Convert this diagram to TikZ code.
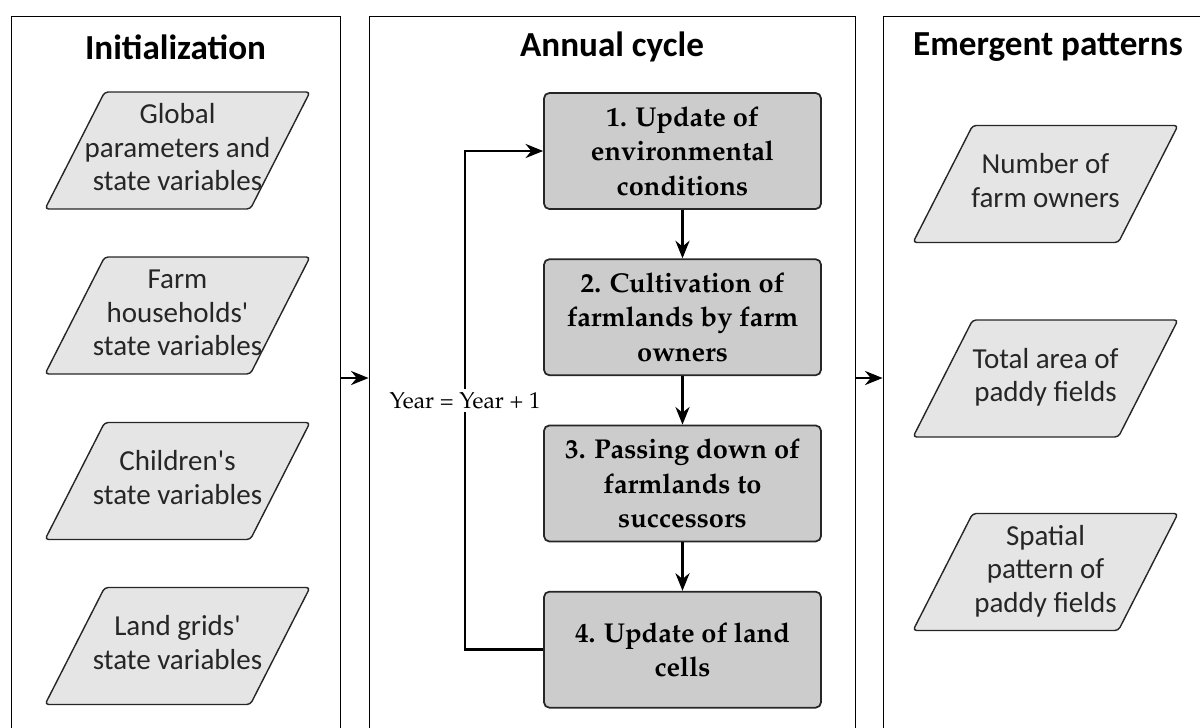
\documentclass[tikz,border=0pt]{standalone}
\usepackage{fontspec}
\setsansfont{Carlito}
\usepackage[T1,TU]{fontenc}
\usetikzlibrary{arrows.meta,positioning,shapes.geometric}
\newcommand{\palfont}{\fontencoding{T1}\fontfamily{ppl}\selectfont}
% fixed size, so every slanted box gets the same slant and width
\newcommand{\slantbox}[1]{\vbox to 2.34cm{\vss\hbox to 2.9cm{\hss\begin{tabular}{@{}c@{}}#1\end{tabular}\hss}\vss}}

\begin{document}
\begin{tikzpicture}[x=0.02cm,y=-0.02cm,>={Stealth[length=10pt,width=8pt]},panel/.style={draw,line width=0.5pt,minimum width=#1,minimum height=14.48cm,inner sep=0pt},heading/.style={font=\sffamily\bfseries\fontsize{20}{24}\selectfont},datain/.style={trapezium,trapezium left angle=63,trapezium right angle=117,trapezium stretches body=true,draw=black!85,line width=0.8pt,fill=black!10,rounded corners=2pt,minimum width=5.3cm,minimum height=2.34cm,inner sep=0pt,text=black!85,font=\sffamily\fontsize{16.5}{19}\selectfont},process/.style={draw=black!85,line width=1pt,fill=black!20,rounded corners=3pt,minimum width=5.54cm,minimum height=2.32cm,inner sep=0pt,align=center,font=\palfont\bfseries\fontsize{15.5}{19.6}\selectfont},arrow/.style={->,line width=1.5pt}]
\clip (0,0) rectangle (1200,727);
% three panels, open at the bottom
\node[panel=6.58cm] (init) at (175.5,378) {};
\node[panel=9.72cm] (cycle) at (612,378) {};
\node[panel=6.6cm] (emerge) at (1048,378) {};
\node[heading] (inittitle) at (175.5,47) {Initialization};
\node[heading] (cycletitle) at (612,47) {Annual cycle};
\node[heading] (emergetitle) at (1048,47) {Emergent patterns};
% inputs
\node[datain] (glob) at (177.5,150.5) {\slantbox{Global\\parameters and\\state variables}};
\node[datain] (farm) at (177.5,315.5) {\slantbox{Farm\\households\textquotesingle\\state variables}};
\node[datain] (child) at (177.5,481) {\slantbox{Children\textquotesingle s\\state variables}};
\node[datain] (land) at (177.5,646) {\slantbox{Land grids\textquotesingle\\state variables}};
% annual steps
\node[process] (envir) at (682.5,151) {1. Update of\\environmental\\conditions};
\node[process,below=0.97cm of envir] (cultiv) {2. Cultivation of\\farmlands by farm\\owners};
\node[process,below=0.97cm of cultiv] (passing) {3. Passing down of\\farmlands to\\successors};
\node[process,below=0.97cm of passing] (cells) {4. Update of land\\cells};
\draw[arrow] (envir) -- (cultiv); \draw[arrow] (cultiv) -- (passing); \draw[arrow] (passing) -- (cells);
\draw[arrow] (cells.west) -- ++(-78,0) |- node[pos=0.25,fill=white,inner sep=2pt,font=\palfont\fontsize{13}{15}\selectfont]{Year = Year + 1} (envir.west);
% outputs
\node[datain] (owners) at (1045.5,184) {\slantbox{Number of\\farm owners}};
\node[datain] (area) at (1045.5,378.5) {\slantbox{Total area of\\paddy fields}};
\node[datain] (spatial) at (1045.5,572) {\slantbox{Spatial\\pattern of\\paddy fields}};
\draw[arrow] (init.east) -- (cycle.west);
\draw[arrow] (cycle.east) -- (emerge.west);
\end{tikzpicture}
\end{document}
